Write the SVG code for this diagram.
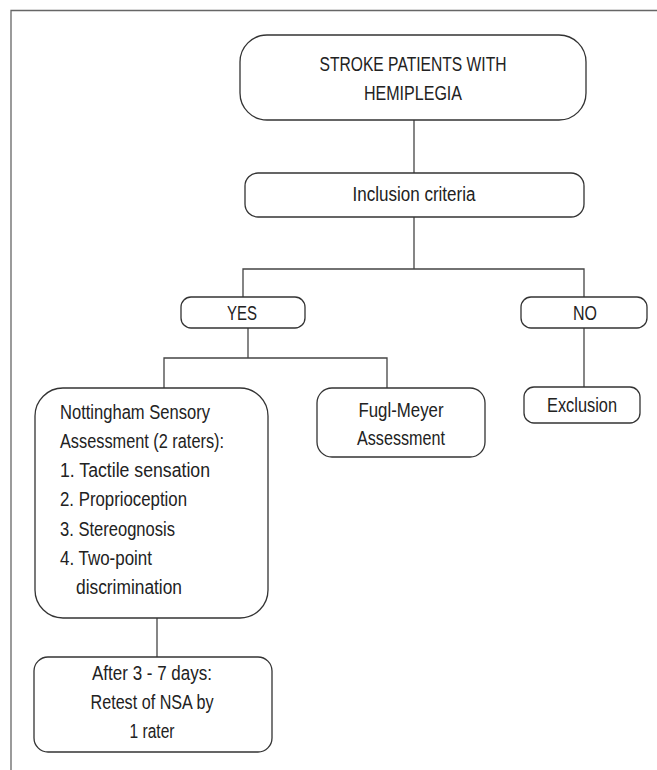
<svg xmlns="http://www.w3.org/2000/svg" width="657" height="770" viewBox="0 0 657 770">
<style>
.box{fill:#fff;stroke:#333;stroke-width:1.3}
.ln{fill:none;stroke:#444;stroke-width:1.3}
.frame{fill:none;stroke:#666;stroke-width:1.3}
text{font-family:"Liberation Sans",Arial,sans-serif;font-size:20px;fill:#222}
.c{text-anchor:middle}
</style>
<rect width="657" height="770" fill="#fff"/>
<path class="frame" d="M11,770 V10.5 H657"/>
<g id="connectors">
<path class="ln" d="M414,120 V173"/>
<path class="ln" d="M414,217 V269"/>
<path class="ln" d="M243,297 V269 H584 V297"/>
<path class="ln" d="M584,328 V387"/>
<path class="ln" d="M248,328 V358"/>
<path class="ln" d="M164,388 V358 H387 V388"/>
<path class="ln" d="M157,618 V657"/>
</g>
<g id="stroke">
<rect class="box" x="240" y="35" width="346" height="85" rx="27"/>
<text class="c" x="413" y="71" textLength="187" lengthAdjust="spacingAndGlyphs">STROKE PATIENTS WITH</text>
<text class="c" x="413" y="100" textLength="98" lengthAdjust="spacingAndGlyphs">HEMIPLEGIA</text>
</g>
<g id="inclusion">
<rect class="box" x="245" y="173" width="339" height="44" rx="13"/>
<text class="c" x="414" y="201" textLength="123" lengthAdjust="spacingAndGlyphs">Inclusion criteria</text>
</g>
<g id="yes">
<rect class="box" x="181" y="297" width="124" height="31" rx="10"/>
<text class="c" x="242" y="320" textLength="30" lengthAdjust="spacingAndGlyphs">YES</text>
</g>
<g id="no">
<rect class="box" x="521" y="297" width="126" height="31" rx="10"/>
<text class="c" x="585" y="320" textLength="24" lengthAdjust="spacingAndGlyphs">NO</text>
</g>
<g id="exclusion">
<rect class="box" x="524" y="387" width="116" height="36" rx="10"/>
<text class="c" x="582" y="412" textLength="70" lengthAdjust="spacingAndGlyphs">Exclusion</text>
</g>
<g id="fugl">
<rect class="box" x="317" y="388" width="168" height="69" rx="15"/>
<text class="c" x="401" y="417" textLength="85" lengthAdjust="spacingAndGlyphs">Fugl-Meyer</text>
<text class="c" x="401" y="445" textLength="88" lengthAdjust="spacingAndGlyphs">Assessment</text>
</g>
<g id="nsa">
<rect class="box" x="35" y="388" width="233" height="230" rx="28"/>
<text x="60" y="419" textLength="150" lengthAdjust="spacingAndGlyphs">Nottingham Sensory</text>
<text x="60" y="448" textLength="164" lengthAdjust="spacingAndGlyphs">Assessment (2 raters):</text>
<text x="60" y="477" textLength="150" lengthAdjust="spacingAndGlyphs">1. Tactile sensation</text>
<text x="60" y="506" textLength="127" lengthAdjust="spacingAndGlyphs">2. Proprioception</text>
<text x="60" y="536" textLength="115" lengthAdjust="spacingAndGlyphs">3. Stereognosis</text>
<text x="60" y="565" textLength="92" lengthAdjust="spacingAndGlyphs">4. Two-point</text>
<text x="76" y="594" textLength="106" lengthAdjust="spacingAndGlyphs">discrimination</text>
</g>
<g id="retest">
<rect class="box" x="34" y="657" width="238" height="95" rx="14"/>
<text class="c" x="152" y="680" textLength="120" lengthAdjust="spacingAndGlyphs">After 3 - 7 days:</text>
<text class="c" x="152" y="709" textLength="123" lengthAdjust="spacingAndGlyphs">Retest of NSA by</text>
<text class="c" x="152" y="738" textLength="45" lengthAdjust="spacingAndGlyphs">1 rater</text>
</g>
</svg>
